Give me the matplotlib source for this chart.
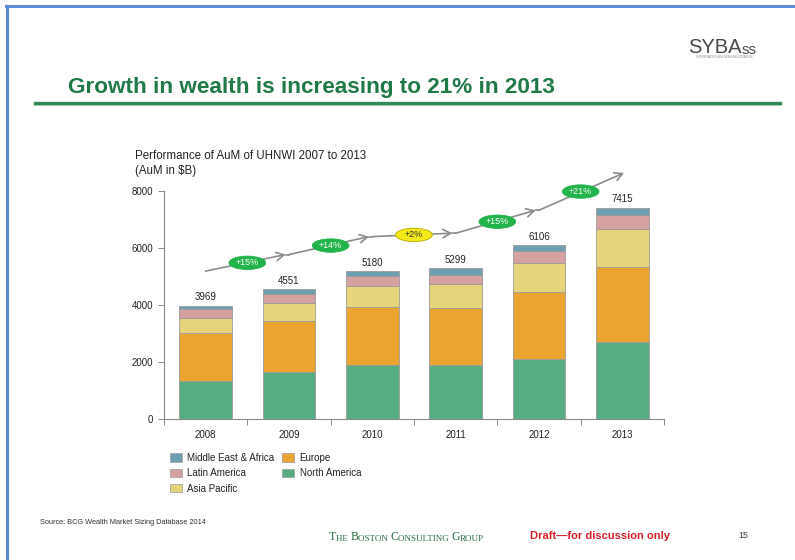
import matplotlib
matplotlib.use("Agg")
import matplotlib.pyplot as plt
from matplotlib.patches import Ellipse, Patch
from matplotlib.lines import Line2D

plt.rcParams['font.family'] = ['Liberation Sans', 'DejaVu Sans']

# AuM of UHNWI by region, $B
years = ['2008', '2009', '2010', '2011', '2012', '2013']
north_america = [1330, 1660, 1900, 1880, 2120, 2700]
europe = [1680, 1780, 2040, 2030, 2330, 2640]
asia_pacific = [520, 640, 725, 810, 1020, 1340]
latin_america = [320, 300, 350, 350, 420, 470]
middle_east_africa = [119, 171, 165, 229, 216, 265]
totals = [3969, 4551, 5180, 5299, 6106, 7415]

series = [
    ('North America', north_america, '#57ad82'),
    ('Europe', europe, '#eca431'),
    ('Asia Pacific', asia_pacific, '#e6d47b'),
    ('Latin America', latin_america, '#d4a0a0'),
    ('Middle East & Africa', middle_east_africa, '#6e9fb1'),
]

W, H = 795, 560
fig = plt.figure(figsize=(W / 100, H / 100), dpi=100)
fig.patch.set_facecolor('white')


def fx(px):
    return px / W


def fy(py):
    return 1 - py / H


ax = fig.add_axes([fx(164), fy(419), fx(664) - fx(164), fy(191) - fy(419)])

# slide frame
fig.add_artist(Line2D([fx(7), fx(7)], [fy(6), 0], color='#5b8bd0', lw=2.2))
fig.add_artist(Line2D([fx(6), 1], [fy(6), fy(6)], color='#5b8bd0', lw=2.2))

# headline and rule
fig.text(fx(68), fy(88), 'Growth in wealth is increasing to 21% in 2013',
         color='#1f7a47', fontsize=16.2, fontweight='bold', va='center', ha='left')
fig.add_artist(Line2D([fx(35), fx(780)], [fy(104.5), fy(104.5)], color='#b9dcc6', lw=1.5))
fig.add_artist(Line2D([fx(35), fx(780)], [fy(103), fy(103)], color='#2f8a57', lw=2.4))

# association logo
logo = fig.text(fx(688), fy(53), 'SYBA', color='#4a4a4a', fontsize=14.5,
                va='baseline', ha='left')
ax.annotate('ss', xy=(1, 0), xycoords=logo, xytext=(0.3, 0), textcoords='offset points',
            color='#4a4a4a', fontsize=11, va='bottom', ha='left', annotation_clip=False)
fig.text(fx(724), fy(57.5), 'SUPERYACHT BUILDERS ASSOCIATION', color='#888888',
         fontsize=2.2, ha='center', va='center')

# chart subtitle
fig.text(fx(135), fy(156), 'Performance of AuM of UHNWI 2007 to 2013', fontsize=8.3,
         color='#222222', va='center')
fig.text(fx(135), fy(171), '(AuM in $B)', fontsize=8.3, color='#222222', va='center')

x = list(range(len(years)))
bottom = [0] * len(years)
handles = {}
for name, vals, color in series:
    ax.bar(x, vals, bottom=bottom, width=0.63, color=color,
           edgecolor='#9c9c9c', linewidth=0.6, zorder=2)
    handles[name] = Patch(facecolor=color, edgecolor='#9c9c9c', linewidth=0.5)
    bottom = [bt + v for bt, v in zip(bottom, vals)]

for xi, tot in zip(x, totals):
    ax.annotate(str(tot), xy=(xi, tot), xytext=(0, 2.5), textcoords='offset points',
                ha='center', va='bottom', fontsize=7, color='#222222')

ax.set_xlim(-0.5, len(years) - 0.5)
ax.set_ylim(0, 8000)
ax.set_yticks([0, 2000, 4000, 6000, 8000])
ax.set_xticks(x)
ax.set_xticklabels(years)
ax.set_xticks([i - 0.5 for i in range(len(years) + 1)], minor=True)
ax.tick_params(axis='x', which='major', length=0, pad=8, labelsize=7, labelcolor='#222222')
ax.tick_params(axis='x', which='minor', length=4, width=0.7, color='#8a8a8a', direction='out')
ax.tick_params(axis='y', length=4, width=0.7, color='#8a8a8a', labelsize=7,
               labelcolor='#222222', pad=4)
for s in ['top', 'right']:
    ax.spines[s].set_visible(False)
for s in ['left', 'bottom']:
    ax.spines[s].set_color('#8a8a8a')
    ax.spines[s].set_linewidth(0.8)

# year-on-year growth path drawn above the bars
offset = 1220
path_y = [t + offset for t in totals]
for i in range(1, len(totals)):
    end_x = i + 0.02 if i == len(totals) - 1 else i - 0.04
    ax.annotate('', xy=(end_x, path_y[i]), xytext=(i - 1, path_y[i - 1]),
                xycoords='data', textcoords='data', annotation_clip=False,
                arrowprops=dict(arrowstyle='->,head_length=0.55,head_width=0.3',
                                color='#8c8c8c', lw=1.2, shrinkA=0, shrinkB=0))
    if i < len(totals) - 1:
        ax.plot([i - 0.04, i], [path_y[i], path_y[i]], color='#8c8c8c', lw=1.2,
                clip_on=False, zorder=1)
    growth = round(100 * (totals[i] / totals[i - 1] - 1))
    mx = i - 0.5
    my = (path_y[i] + path_y[i - 1]) / 2
    small = growth < 5
    fc = '#f3e81a' if small else '#22b34a'
    ec = '#b8a800' if small else '#22b34a'
    tc = '#333333' if small else 'white'
    ax.add_patch(Ellipse((mx, my), 0.44, 470, facecolor=fc, edgecolor=ec,
                         linewidth=0.6, clip_on=False, zorder=5))
    ax.text(mx, my, f'+{growth}%', ha='center', va='center', fontsize=6.5,
            color=tc, zorder=6, clip_on=False)

order = ['Middle East & Africa', 'Latin America', 'Asia Pacific', 'Europe', 'North America']
fig.legend([handles[n] for n in order], order, ncol=2, loc='upper left',
           bbox_to_anchor=(fx(163), fy(446)), frameon=False, fontsize=7,
           handlelength=1.25, handleheight=0.95, handletextpad=0.55,
           labelspacing=0.55, columnspacing=0.8, borderpad=0.2,
           labelcolor='#222222')

# footer
fig.text(fx(40), fy(523), 'Source: BCG Wealth Market Sizing Database 2014',
         fontsize=5.3, color='#333333', va='center')

bcg_color = '#2a6e45'
pieces = [('T', 8.6), ('HE ', 6.5), ('B', 8.6), ('OSTON ', 6.5), ('C', 8.6),
          ('ONSULTING ', 6.5), ('G', 8.6), ('ROUP', 6.5)]
prev = fig.text(fx(329), fy(540), pieces[0][0], fontsize=pieces[0][1], color=bcg_color,
                family='Liberation Serif', va='baseline', ha='left')
for txt, sz in pieces[1:]:
    prev = ax.annotate(txt, xy=(1, 0), xycoords=prev, xytext=(0, 0),
                       textcoords='offset points', fontsize=sz, color=bcg_color,
                       family='Liberation Serif', va='bottom', ha='left',
                       annotation_clip=False)

fig.text(fx(530), fy(536), 'Draft\u2014for discussion only', fontsize=8, fontweight='bold',
         color='#d42027', va='center')
fig.text(fx(738), fy(536), '15', fontsize=6.3, color='#333333', va='center')

fig.savefig('out.png', dpi=100, facecolor='white')
